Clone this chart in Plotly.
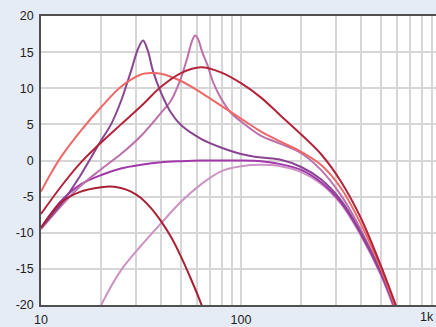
import plotly.graph_objects as go

# ---- data (frequency in Hz, level in dB) ----
f_a = [10, 12.6, 15.8, 20, 25.1, 31.6, 39.8, 50.1, 63.1, 79.4, 100, 126, 158, 200, 251, 316, 398, 501, 631]
db_a = [-7.4, -3.6, -0.3, 2.5, 5.0, 7.5, 10.2, 12.1, 12.9, 12.2, 10.7, 8.7, 6.2, 3.6, 0.9, -2.9, -8.0, -14.6, -22.0]

f_b = [10, 11.2, 12.6, 15.8, 20, 25.1, 31.6, 35.5, 39.8, 50.1, 63.1, 79.4, 100, 126, 158, 200, 251, 316, 398, 501, 631]
db_b = [-4.3, -1.8, 0.5, 4.1, 7.4, 10.2, 11.9, 12.1, 12.0, 11.0, 9.4, 7.6, 5.8, 4.0, 2.6, 1.2, -0.6, -3.8, -8.8, -15.0, -22.5]

f_c = [10, 12.6, 15.8, 20, 22.4, 25.1, 28.2, 30.5, 32.4, 34.2, 36.3, 39.8, 44.7, 50.1, 63.1, 79.4, 100, 126, 158, 200, 251, 316, 398, 501, 631]
db_c = [-9.3, -6.0, -2.0, 2.8, 5.0, 8.2, 12.4, 15.4, 16.6, 15.2, 12.4, 9.4, 6.6, 4.9, 3.0, 1.8, 0.9, 0.4, 0.1, -0.9, -2.6, -5.5, -10.0, -15.5, -22.5]

f_d = [10, 12.6, 15.8, 20, 25.1, 31.6, 39.8, 44.7, 50.1, 54, 57, 59, 61, 64, 68, 72.4, 79.4, 89, 100, 126, 158, 200, 251, 316, 398, 501, 631]
db_d = [-9.5, -6.3, -3.5, -1.2, 0.9, 3.4, 6.6, 8.3, 11.4, 14.3, 16.6, 17.3, 16.8, 15.0, 13.2, 10.9, 8.6, 6.6, 5.4, 3.4, 2.3, 1.0, -1.3, -4.8, -9.6, -15.4, -22.5]

f_e = [10, 12.6, 15.8, 20, 25.1, 31.6, 39.8, 50.1, 63.1, 79.4, 100, 126, 158, 200, 251, 316, 398, 501, 631]
db_e = [-9.3, -5.6, -3.3, -2.0, -1.1, -0.6, -0.25, -0.1, 0.0, 0.0, 0.0, -0.1, -0.5, -1.3, -3.0, -5.8, -10.2, -15.7, -22.8]

f_f = [19, 20, 25.1, 31.6, 39.8, 50.1, 63.1, 79.4, 100, 126, 158, 200, 251, 316, 398, 501, 631]
db_f = [-21.4, -20.0, -15.2, -11.8, -8.7, -5.7, -3.3, -1.5, -0.8, -0.6, -0.8, -1.6, -3.2, -6.0, -10.4, -15.9, -23.0]

f_g = [10, 12.6, 15.8, 20, 22.4, 25.1, 28.2, 31.6, 35.5, 39.8, 44.7, 50.1, 56.2, 63.1, 66]
db_g = [-9.3, -5.8, -4.3, -3.7, -3.6, -3.8, -4.3, -5.2, -6.6, -8.4, -10.6, -13.3, -16.4, -19.8, -21.5]

y_ticks = [20, 15, 10, 5, 0, -5, -10, -15, -20]
y_labels = ["20", "15", "10", "5", "0", "-5", "-10", "-15", "-20"]
x_ticks = [10, 20, 30, 40, 50, 60, 70, 80, 90, 100, 200, 300, 400, 500, 600, 700, 800, 900]
x_labels = ["10", "", "", "", "", "", "", "", "", "100", "", "", "", "", "", "", "", ""]

series = [
    (f_f, db_f, "rgb(204,146,194)"),
    (f_e, db_e, "rgb(162,56,170)"),
    (f_d, db_d, "rgb(188,112,172)"),
    (f_c, db_c, "rgb(138,68,146)"),
    (f_b, db_b, "rgb(238,104,104)"),
    (f_g, db_g, "rgb(168,32,52)"),
    (f_a, db_a, "rgb(178,36,58)"),
]

fig = go.Figure()
for fx, dy, col in series:
    fig.add_trace(go.Scatter(x=fx, y=dy, mode="lines",
                             line=dict(color=col, width=2, shape="spline", smoothing=0.9),
                             hoverinfo="skip", showlegend=False))

fig.update_layout(
    width=436, height=327,
    margin=dict(l=41, r=0, t=16, b=16),
    paper_bgcolor="rgb(230,236,246)",
    plot_bgcolor="white",
    font=dict(family="Liberation Sans, Arial, sans-serif", size=12.5, color="#222"),
    xaxis=dict(type="log", range=[1, 2.975], tickvals=x_ticks, ticktext=x_labels,
               showgrid=True, gridcolor="rgb(214,214,214)", gridwidth=1.6,
               showline=True, linecolor="rgb(80,80,80)", linewidth=1.5, mirror=True,
               ticks="outside", ticklen=2, tickcolor="rgba(0,0,0,0)", zeroline=False,
               fixedrange=True),
    yaxis=dict(range=[-20, 20], tickvals=y_ticks, ticktext=y_labels,
               showgrid=True, gridcolor="rgb(214,214,214)", gridwidth=1.6,
               showline=True, linecolor="rgb(80,80,80)", linewidth=1.5,
               ticks="outside", ticklen=3, tickcolor="rgba(0,0,0,0)", zeroline=False,
               fixedrange=True),
    annotations=[dict(text="1k", xref="paper", yref="paper", x=1.0, y=0,
                      xanchor="right", yanchor="top", yshift=-3, showarrow=False,
                      font=dict(size=12.5, color="#222"))],
)

fig.write_html("out.html", config={"displayModeBar": False})
